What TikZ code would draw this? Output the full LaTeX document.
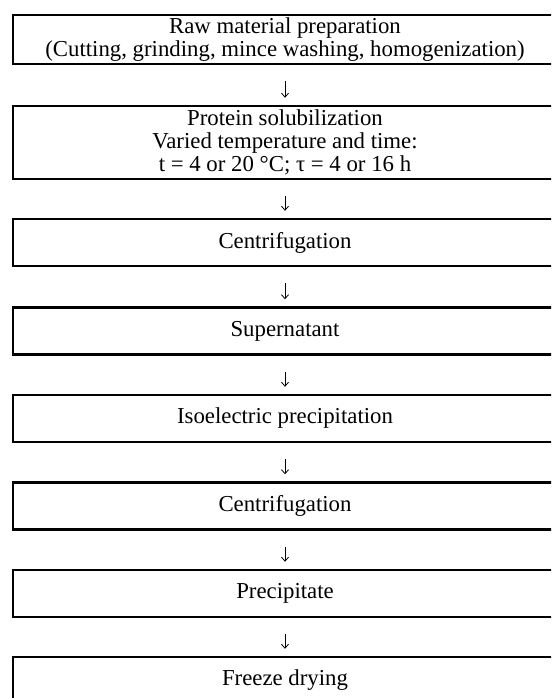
\documentclass[tikz,border=0pt]{standalone}
\usepackage{fontspec}
\setmainfont{Liberation Serif}
\usetikzlibrary{arrows.meta}

\begin{document}
\begin{tikzpicture}[x=1pt,y=1pt,
  stage/.style={draw,line width=2.4pt,minimum width=544pt,minimum height=47pt,inner sep=1pt,
    align=center,font=\fontsize{22.8}{22.8}\selectfont},
  flow/.style={-{Straight Barb[length=4pt,width=7pt]},line width=0.8pt,shorten <=16pt,shorten >=7pt}]
\useasboundingbox (0,0) rectangle (551,698);
\clip (0,0) rectangle (551,698);

\node[stage,minimum height=49pt] (raw) at (285,658.5) {Raw material preparation\\(Cutting, grinding, mince washing, homogenization)};
\node[stage,minimum height=73pt] (solub) at (285,555.5) {Protein solubilization\\Varied temperature and time:\\t = 4 or 20 °C; τ = 4 or 16 h};
\node[stage] (centr1) at (285,455.5) {Centrifugation};
\node[stage] (super) at (285,367) {Supernatant};
\node[stage] (isoel) at (285,279.5) {Isoelectric precipitation};
\node[stage] (centr2) at (285,192) {Centrifugation};
\node[stage] (precip) at (285,104.5) {Precipitate};
\node[stage] (freeze) at (285,17.5) {Freeze drying};

\draw[flow] (raw) -- (solub);
\draw[flow] (solub) -- (centr1);
\draw[flow] (centr1) -- (super);
\draw[flow] (super) -- (isoel);
\draw[flow] (isoel) -- (centr2);
\draw[flow] (centr2) -- (precip);
\draw[flow] (precip) -- (freeze);
\end{tikzpicture}
\end{document}
